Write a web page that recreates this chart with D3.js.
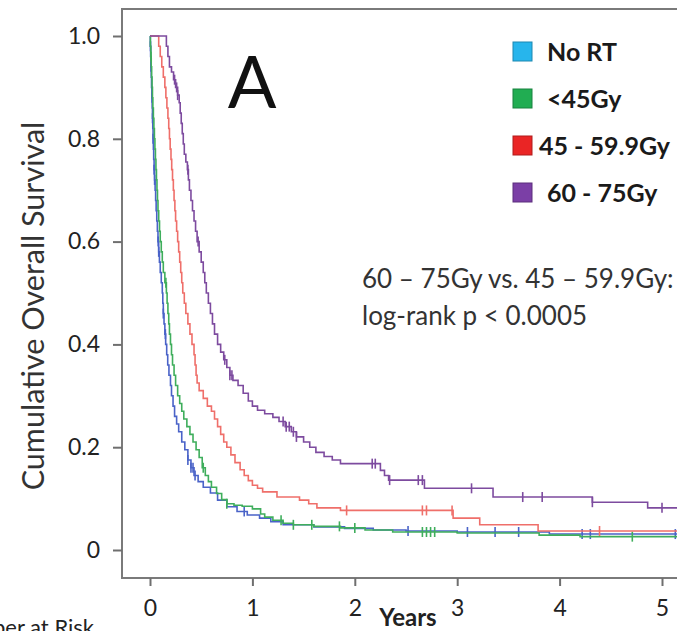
<!DOCTYPE html>
<html>
<head>
<meta charset="utf-8">
<script src="https://cdn.jsdelivr.net/npm/d3@7"></script>
<style>
  html, body { margin: 0; padding: 0; background: #fff; }
  svg { display: block; font-family: Lato, "Open Sans", sans-serif; }
</style>
</head>
<body>
<div id="chart"></div>
<script>
// Kaplan-Meier steps: [years, survival]
const noRT = [[0,1],[0.003,0.98],[0.006,0.96],[0.009,0.94],[0.012,0.92],[0.015,0.90],[0.018,0.88],[0.021,0.86],
  [0.024,0.84],[0.027,0.82],[0.03,0.80],[0.033,0.78],[0.036,0.76],[0.04,0.74],[0.045,0.72],[0.05,0.70],
  [0.055,0.68],[0.06,0.66],[0.066,0.64],[0.072,0.62],[0.078,0.60],[0.085,0.58],[0.092,0.56],[0.10,0.54],
  [0.11,0.52],[0.12,0.50],[0.125,0.48],[0.13,0.46],[0.137,0.44],[0.145,0.42],[0.153,0.40],[0.163,0.38],
  [0.173,0.36],[0.185,0.34],[0.20,0.32],[0.21,0.30],[0.225,0.28],[0.24,0.26],[0.26,0.245],[0.28,0.23],
  [0.31,0.21],[0.34,0.195],[0.37,0.175],[0.40,0.16],[0.43,0.145],[0.47,0.133],[0.52,0.122],[0.59,0.111],
  [0.66,0.097],[0.75,0.084],[0.85,0.075],[0.95,0.068],[1.07,0.062],[1.18,0.055],[1.30,0.049],
  [1.6,0.045],[1.9,0.042],[2.18,0.039],[2.5,0.037],[3.0,0.035],[3.9,0.031],[5.4,0.031]];
const below45 = [[0,1],[0.004,0.98],[0.008,0.96],[0.012,0.94],[0.016,0.92],[0.02,0.90],[0.024,0.88],[0.028,0.86],
  [0.033,0.84],[0.038,0.82],[0.043,0.80],[0.048,0.78],[0.053,0.76],[0.058,0.74],[0.063,0.72],[0.068,0.70],
  [0.073,0.68],[0.078,0.66],[0.085,0.64],[0.093,0.62],[0.10,0.60],[0.11,0.58],[0.12,0.56],[0.13,0.54],
  [0.145,0.52],[0.16,0.50],[0.167,0.48],[0.175,0.46],[0.183,0.44],[0.19,0.42],[0.20,0.40],[0.21,0.38],
  [0.22,0.36],[0.235,0.34],[0.25,0.32],[0.27,0.30],[0.29,0.285],[0.31,0.27],[0.33,0.255],[0.36,0.24],
  [0.39,0.225],[0.42,0.21],[0.45,0.195],[0.48,0.18],[0.51,0.16],[0.54,0.145],[0.57,0.133],[0.60,0.122],
  [0.65,0.11],[0.70,0.098],[0.75,0.09],[0.82,0.087],[0.90,0.085],[1.0,0.08],[1.08,0.07],[1.12,0.064],
  [1.2,0.058],[1.3,0.052],[1.4,0.049],[1.6,0.046],[1.86,0.043],[2.1,0.039],[2.37,0.035],[3.0,0.033],
  [3.8,0.029],[4.2,0.026],[5.4,0.026]];
const gy45to60 = [[0,1],[0.07,1],[0.085,0.98],[0.10,0.96],[0.115,0.94],[0.13,0.92],[0.145,0.90],[0.155,0.88],
  [0.165,0.86],[0.175,0.84],[0.183,0.82],[0.19,0.80],[0.197,0.78],[0.205,0.76],[0.212,0.74],[0.22,0.72],
  [0.228,0.70],[0.235,0.68],[0.243,0.66],[0.25,0.64],[0.26,0.62],[0.27,0.60],[0.28,0.58],[0.29,0.56],
  [0.30,0.54],[0.31,0.52],[0.32,0.50],[0.335,0.48],[0.35,0.46],[0.37,0.44],[0.39,0.42],[0.41,0.40],
  [0.43,0.38],[0.44,0.36],[0.45,0.34],[0.46,0.325],[0.48,0.31],[0.52,0.295],[0.56,0.28],[0.60,0.27],
  [0.63,0.255],[0.66,0.24],[0.69,0.225],[0.72,0.21],[0.75,0.20],[0.79,0.185],[0.83,0.17],[0.88,0.156],
  [0.92,0.145],[0.96,0.135],[1.0,0.126],[1.05,0.12],[1.1,0.113],[1.24,0.103],[1.46,0.097],[1.55,0.09],
  [1.63,0.082],[1.86,0.077],[2.96,0.062],[3.22,0.049],[3.79,0.037],[5.4,0.037]];
const gy60to75 = [[0,1],[0.15,1],[0.16,0.98],[0.175,0.96],[0.19,0.94],[0.21,0.93],[0.23,0.915],[0.25,0.90],
  [0.27,0.885],[0.285,0.87],[0.295,0.85],[0.305,0.83],[0.315,0.81],[0.325,0.79],[0.335,0.77],[0.35,0.755],
  [0.365,0.74],[0.375,0.72],[0.385,0.70],[0.40,0.68],[0.415,0.66],[0.43,0.64],[0.445,0.62],[0.46,0.60],
  [0.48,0.58],[0.50,0.56],[0.52,0.54],[0.535,0.52],[0.55,0.50],[0.57,0.48],[0.59,0.46],[0.61,0.44],
  [0.63,0.42],[0.66,0.40],[0.69,0.385],[0.72,0.37],[0.75,0.355],[0.78,0.34],[0.81,0.33],[0.86,0.32],
  [0.91,0.305],[0.96,0.29],[1.0,0.28],[1.05,0.272],[1.12,0.265],[1.2,0.258],[1.26,0.25],[1.32,0.24],
  [1.38,0.23],[1.43,0.22],[1.50,0.21],[1.56,0.20],[1.62,0.19],[1.70,0.182],[1.78,0.175],[1.86,0.168],
  [2.25,0.155],[2.29,0.145],[2.33,0.136],[2.68,0.12],[3.35,0.103],[4.32,0.093],[4.86,0.082],[5.4,0.082]];

// censored observations (years)
const noRTCensor = [0.005,0.01,0.02,0.025,0.03,0.04,0.045,0.08,0.085,0.13,0.15,0.37,0.40,0.42,0.44,
  0.92,2.52,3.1,3.37,3.6,4.22,4.3,5.13];
const below45Censor = [0.01,0.155,0.52,0.75,1.28,1.4,1.58,1.85,2.0,2.66,2.7,2.74,2.78,4.71];
const gy45to60Censor = [1.92,2.66,2.70,2.95,4.39];
const gy60to75Censor = [0.24,0.26,0.27,0.37,0.47,0.73,0.78,0.80,1.30,1.33,1.36,1.40,1.43,2.17,2.20,
  2.34,2.62,2.66,3.14,3.64,3.83,4.32,5.0];

const groupNames = ["No RT", "<45Gy", "45 - 59.9Gy", "60 - 75Gy"];
const lineColors = ["#4a63c8", "#3fae5c", "#ef6f6a", "#7d4b9f"];
const keyColors = ["#27b5ec", "#21ad52", "#ea2525", "#7b3fa6"];
const xTicks = [0, 1, 2, 3, 4, 5];
const yTicks = [0, 0.2, 0.4, 0.6, 0.8, 1.0];

const width = 677, height = 631;
const svg = d3.select("#chart").append("svg")
  .attr("width", width).attr("height", height);

const x = d3.scaleLinear().domain([0, 5]).range([150, 662]);
const y = d3.scaleLinear().domain([0, 1]).range([550, 36]);

const frameLeft = 122, frameTop = 9, frameBottom = 578;

// plot frame (right edge is cropped in the original)
svg.append("rect")
  .attr("x", frameLeft).attr("y", frameTop)
  .attr("width", 700 - frameLeft).attr("height", frameBottom - frameTop)
  .attr("fill", "none").attr("stroke", "#7a7a7a").attr("stroke-width", 2);

// axes
const xAxis = svg.append("g")
  .attr("transform", `translate(0,${frameBottom})`)
  .call(d3.axisBottom(x).tickValues(xTicks).tickSize(8).tickPadding(14).tickFormat(d3.format("d")));
const yAxis = svg.append("g")
  .attr("transform", `translate(${frameLeft},0)`)
  .call(d3.axisLeft(y).tickValues(yTicks).tickSize(9).tickPadding(13)
    .tickFormat(d => d === 0 ? "0" : d3.format(".1f")(d)));

[xAxis, yAxis].forEach(g => {
  g.select(".domain").remove();
  g.selectAll(".tick line").attr("stroke", "#6f6f6f").attr("stroke-width", 2);
  g.selectAll(".tick text").attr("fill", "#222").style("font-size", "23px")
    .style("font-family", "Lato, sans-serif");
});

// curves, clipped to the plot frame
svg.append("clipPath").attr("id", "plotClip")
  .append("rect").attr("x", frameLeft + 1).attr("y", frameTop + 1)
  .attr("width", width).attr("height", frameBottom - frameTop - 2);

const plot = svg.append("g").attr("clip-path", "url(#plotClip)");
const line = d3.line().x(d => x(d[0])).y(d => y(d[1])).curve(d3.curveStepAfter);

const series = [noRT, below45, gy45to60, gy60to75];
const censors = [noRTCensor, below45Censor, gy45to60Censor, gy60to75Censor];

function survAt(data, t) {
  const i = d3.bisector(d => d[0]).right(data, t) - 1;
  return data[Math.max(0, i)][1];
}

series.forEach((data, i) => {
  plot.append("path")
    .datum(data)
    .attr("d", line)
    .attr("fill", "none")
    .attr("stroke", lineColors[i])
    .attr("stroke-width", 1.6);

  plot.selectAll(".cens" + i)
    .data(censors[i])
    .enter().append("line")
    .attr("x1", t => x(t)).attr("x2", t => x(t))
    .attr("y1", t => y(survAt(data, t)) - 5)
    .attr("y2", t => y(survAt(data, t)) + 5)
    .attr("stroke", lineColors[i])
    .attr("stroke-width", 1.6);
});

// panel letter
svg.append("text")
  .attr("x", 252).attr("y", 108)
  .attr("text-anchor", "middle")
  .style("font-size", "72px").attr("fill", "#111")
  .text("A");

// legend (third label sits a bit further left in the original)
const legendTextX = [547, 547, 539, 547];
const legend = svg.append("g");
groupNames.forEach((name, i) => {
  const base = 61 + i * 47;
  legend.append("rect")
    .attr("x", 513).attr("y", base - 19)
    .attr("width", 19).attr("height", 19)
    .attr("fill", keyColors[i]).attr("stroke", d3.color(keyColors[i]).darker(0.8))
    .attr("stroke-width", 1);
  legend.append("text")
    .attr("x", legendTextX[i]).attr("y", base)
    .style("font-size", "25px").style("font-weight", "bold")
    .attr("fill", "#1a1a1a")
    .text(name);
});

// log-rank annotation
svg.append("text")
  .attr("x", 362).attr("y", 288)
  .style("font-size", "26px").attr("fill", "#333")
  .text("60 \u2013 75Gy vs. 45 \u2013 59.9Gy:");
svg.append("text")
  .attr("x", 362).attr("y", 325)
  .style("font-size", "26px").attr("fill", "#333")
  .text("log-rank p < 0.0005");

// axis titles
svg.append("text")
  .attr("transform", "translate(44,306) rotate(-90)")
  .attr("text-anchor", "middle")
  .style("font-size", "30.5px").attr("fill", "#333")
  .text("Cumulative Overall Survival");

svg.append("text")
  .attr("x", 408).attr("y", 626)
  .attr("text-anchor", "middle")
  .style("font-size", "24px").style("font-weight", "bold").attr("fill", "#222")
  .text("Years");

// "Number at Risk" heading is cut by the bottom edge in the original
svg.append("text")
  .attr("x", 94).attr("y", 635)
  .attr("text-anchor", "end")
  .style("font-size", "22px").attr("fill", "#222")
  .text("Number at Risk");
</script>
</body>
</html>
